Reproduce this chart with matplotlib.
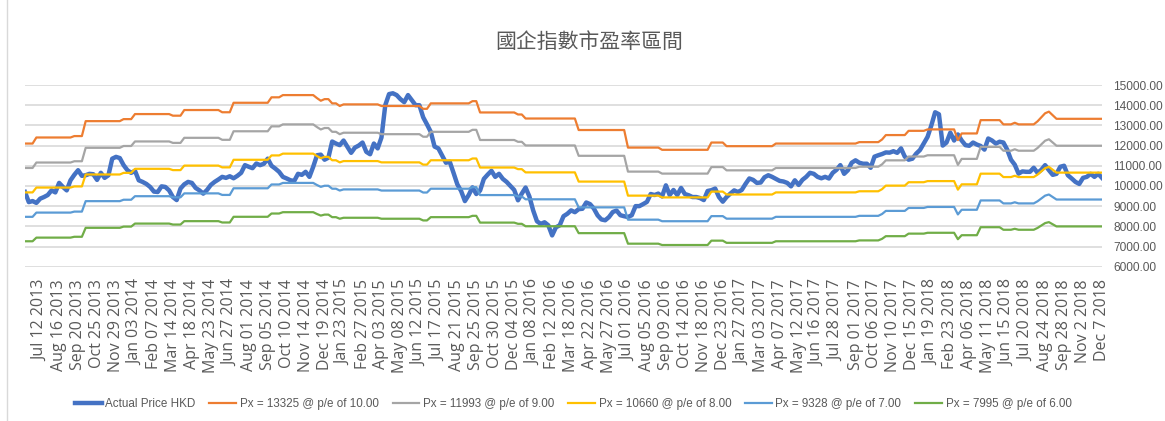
import matplotlib
matplotlib.use("Agg")
import matplotlib.pyplot as plt
from matplotlib.lines import Line2D
import numpy as np

# axis labels (every 5th week, first one on the 5th point)
date_labels = [
    "Jul 12 2013", "Aug 16 2013", "Sep 20 2013", "Oct 25 2013", "Nov 29 2013",
    "Jan 03 2014", "Feb 07 2014", "Mar 14 2014", "Apr 18 2014", "May 23 2014",
    "Jun 27 2014", "Aug 01 2014", "Sep 05 2014", "Oct 10 2014", "Nov 14 2014",
    "Dec 19 2014", "Jan 23 2015", "Feb 27 2015", "Apr 03 2015", "May 08 2015",
    "Jun 12 2015", "Jul 17 2015", "Aug 21 2015", "Sep 25 2015", "Oct 30 2015",
    "Dec 04 2015", "Jan 08 2016", "Feb 12 2016", "Mar 18 2016", "Apr 22 2016",
    "May 27 2016", "Jul 01 2016", "Aug 05 2016", "Sep 09 2016", "Oct 14 2016",
    "Nov 18 2016", "Dec 23 2016", "Jan 27 2017", "Mar 03 2017", "Apr 07 2017",
    "May 12 2017", "Jun 16 2017", "Jul 28 2017", "Sep 01 2017", "Oct 06 2017",
    "Nov 10 2017", "Dec 15 2017", "Jan 19 2018", "Feb 23 2018", "Apr 06 2018",
    "May 11 2018", "Jun 15 2018", "Jul 20 2018", "Aug 24 2018", "Sep 28 2018",
    "Nov 2 2018", "Dec 7 2018",
]

# weekly HSCEI close (HKD)
price = [
    9700, 9200, 9250, 9160, 9370, 9450, 9550, 9780, 9680, 10150,
    9950, 9780, 10280, 10550, 10780, 10500, 10530, 10600, 10580, 10300,
    10650, 10400, 10530, 11350, 11440, 11380, 11030, 10780, 10650, 10750,
    10280, 10200, 10100, 9950, 9720, 9700, 9980, 9950, 9780, 9450,
    9300, 9870, 10080, 10200, 10150, 9900, 9780, 9620, 9800, 10050,
    10200, 10320, 10450, 10400, 10480, 10380, 10500, 10650, 11030, 10950,
    10880, 11110, 11030, 11100, 11350, 11000, 10860, 10700, 10450, 10370,
    10280, 10250, 10600, 10550, 10700, 10450, 10950, 11520, 11550, 11300,
    11400, 12200, 12100, 12020, 12250, 11950, 11640, 11900, 12000, 12150,
    11690, 11570, 12100, 11860, 12400, 14000, 14550, 14590, 14500, 14300,
    14150, 14500, 14250, 14000, 14000, 13400, 13050, 12680, 11950, 11860,
    11500, 11150, 11200, 10650, 10080, 9750, 9250, 9550, 9930, 9600,
    9770, 10350, 10560, 10750, 10450, 10600, 10350, 10200, 10000, 9800,
    9290, 9620, 9920, 9480, 8790, 8250, 8120, 8200, 8050, 7550,
    7950, 8050, 8500, 8620, 8790, 8700, 8850, 8870, 9180, 9100,
    8880, 8540, 8340, 8300, 8460, 8710, 8780, 8550, 8500, 8460,
    8550, 9000, 9000, 9100, 9210, 9600, 9550, 9620, 9480, 10030,
    9550, 9800, 9550, 9900, 9600, 9540, 9450, 9450, 9400, 9300,
    9750, 9790, 9870, 9450, 9220, 9450, 9620, 9780, 9700, 9800,
    10100, 10370, 10300, 10150, 10170, 10430, 10530, 10450, 10350, 10250,
    10220, 10150, 9980, 10280, 10050, 10300, 10450, 10650, 10600, 10450,
    10380, 10450, 10370, 10650, 10800, 11030, 10600, 10780, 11150, 11270,
    11150, 11100, 11100, 10900, 11450, 11520, 11580, 11660, 11650, 11720,
    11640, 11860, 11450, 11300, 11350, 11600, 11780, 12100, 12430, 13000,
    13650, 13550, 12000, 12150, 12640, 12250, 12550, 12250, 12020, 11990,
    12150, 12050, 11980, 11800, 12350, 12250, 12100, 12190, 12150, 11800,
    11300, 11050, 10610, 10720, 10700, 10700, 10900, 10650, 10800, 11030,
    10780, 10550, 10600, 10950, 11000, 10530, 10370, 10200, 10100, 10400,
    10450, 10600, 10450, 10600, 10400,
]

# trailing EPS implied by the bands (Px at p/e 10 divided by 10)
eps = [
    1210, 1210, 1210,
    1240, 1240, 1240, 1240, 1240, 1240, 1240, 1240, 1240, 1240,
    1247, 1247, 1247,
    1321, 1321, 1321, 1321, 1321, 1321, 1321, 1321, 1321, 1321,
    1331, 1331, 1331,
    1356, 1356, 1356, 1356, 1356, 1356, 1356, 1356, 1356, 1356,
    1348, 1348, 1348,
    1376, 1376, 1376, 1376, 1376, 1376, 1376, 1376, 1376, 1376,
    1365, 1365, 1365,
    1412, 1412, 1412, 1412, 1412, 1412, 1412, 1412, 1412, 1412,
    1439, 1439, 1439,
    1450, 1450, 1450, 1450, 1450, 1450, 1450, 1450, 1450,
    1435, 1422, 1430, 1430, 1409, 1409, 1396,
    1404, 1404, 1404, 1404, 1404, 1404, 1404, 1404, 1404, 1404,
    1396, 1396, 1396, 1396, 1396, 1396, 1396, 1396, 1396, 1396, 1396,
    1382, 1382,
    1409, 1409, 1409, 1409, 1409, 1409, 1409, 1409, 1409, 1409, 1409,
    1420, 1420,
    1364, 1364, 1364, 1364, 1364, 1364, 1364, 1364, 1364, 1364,
    1354, 1354,
    1334, 1334, 1334, 1334, 1334, 1334, 1334, 1334, 1334, 1334, 1334, 1334, 1334, 1334,
    1277, 1277, 1277, 1277, 1277, 1277, 1277, 1277, 1277, 1277, 1277, 1277, 1277,
    1190, 1190, 1190, 1190, 1190, 1190, 1190, 1190, 1190,
    1179, 1179, 1179, 1179, 1179, 1179, 1179, 1179, 1179, 1179, 1179, 1179, 1179,
    1215, 1215, 1215, 1215,
    1197, 1197, 1197, 1197, 1197, 1197, 1197, 1197, 1197, 1197, 1197, 1197, 1197,
    1210, 1210, 1210, 1210, 1210, 1210, 1210, 1210, 1210, 1210, 1210,
    1210, 1210, 1210, 1210, 1210, 1210, 1210, 1210, 1210, 1210, 1210,
    1217, 1217, 1217, 1217, 1217, 1217,
    1230,
    1252, 1252, 1252, 1252, 1252, 1252,
    1273, 1273, 1273, 1273, 1273,
    1280, 1280, 1280, 1280, 1280, 1280, 1280, 1280,
    1227,
    1260, 1260, 1260, 1260, 1260,
    1326, 1326, 1326, 1326, 1326, 1326,
    1305, 1305, 1305, 1313, 1305, 1305, 1305, 1305, 1305,
    1320, 1340, 1360, 1368, 1350,
    1332.5, 1332.5, 1332.5, 1332.5, 1332.5, 1332.5, 1332.5,
    1332.5, 1332.5, 1332.5, 1332.5, 1332.5, 1332.5,
]

pe_multiples = [10, 9, 8, 7, 6]
band_latest = [13325, 11993, 10660, 9328, 7995]
band_colors = ["#ED7D31", "#A5A5A5", "#FFC000", "#5B9BD5", "#70AD47"]

x = np.arange(len(price))
eps = np.array(eps, dtype=float)

fig = plt.figure(figsize=(11.65, 4.21), dpi=100)
ax = fig.add_axes([25 / 1165, 1 - 266.7 / 421, (1102 - 25) / 1165, (266.7 - 85) / 421])

ax.plot(x, price, color="#4472C4", lw=3.2, label="Actual Price HKD", solid_joinstyle="round")
for pe, last, c in zip(pe_multiples, band_latest, band_colors):
    ax.plot(x, eps * pe, color=c, lw=1.6, label=f"Px = {last} @ p/e of {pe:.2f}")

ax.set_xlim(0, len(price) - 1)
ax.set_ylim(6000, 15000)
ax.set_yticks(np.arange(6000, 15001, 1000))
ax.yaxis.tick_right()
ax.yaxis.set_major_formatter(matplotlib.ticker.FuncFormatter(lambda v, p: f"{v:.2f}"))
ax.tick_params(axis="y", length=0, pad=8, labelsize=8.6, labelcolor="#595959")
ax.grid(axis="y", color="#d9d9d9", lw=1.2)
ax.set_axisbelow(True)
for s in ax.spines.values():
    s.set_visible(False)

tick_pos = np.arange(4, len(price), 5)
ax.set_xticks(tick_pos)
ax.set_xticklabels(date_labels, rotation=90, fontsize=11.5, color="#595959", family="Open Sans")
ax.tick_params(axis="x", length=0, pad=9)

for lab in ax.get_yticklabels():
    lab.set_family("Liberation Sans")

fig.text(0.506, 1 - 42 / 421, "國企指數市盈率區間", ha="center", va="center", fontsize=15,
         color="#595959", family=["Noto Sans CJK TC", "DejaVu Sans"])

leg = fig.legend(loc="center", bbox_to_anchor=(0.492, 1 - 404 / 421), ncol=6, frameon=False,
                 handlelength=2.3, handletextpad=0.3, columnspacing=1.2,
                 prop={"family": "Liberation Sans", "size": 8.4})
for t in leg.get_texts():
    t.set_color("#595959")

fig.add_artist(Line2D([7 / 1165, 7 / 1165], [0, 1], color="#d9d9d9", lw=1))

fig.savefig("out.png", dpi=100)
